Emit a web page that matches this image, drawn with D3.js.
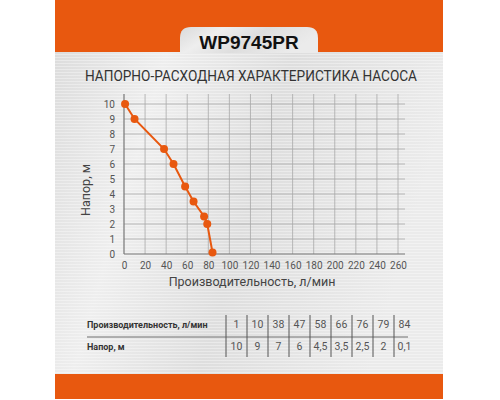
<!DOCTYPE html>
<html><head><meta charset="utf-8">
<script src="https://cdn.jsdelivr.net/npm/d3@7"></script>
<style>body{margin:0;background:#fff}svg{display:block}</style>
</head><body>
<svg id="c" width="500" height="400"></svg>
<script>
const flow = [1, 10, 38, 47, 58, 66, 76, 79, 84];
const head = [10, 9, 7, 6, 4.5, 3.5, 2.5, 2, 0.1];
const headLabels = ["10", "9", "7", "6", "4,5", "3,5", "2,5", "2", "0,1"];
const xTicks = d3.range(0, 261, 20);
const yTicks = d3.range(0, 11, 1);
const title = "WP9745PR";
const subtitle = "НАПОРНО-РАСХОДНАЯ ХАРАКТЕРИСТИКА НАСОСА";
const xTitle = "Производительность, л/мин";
const yTitle = "Напор, м";
const rowLabels = ["Производительность, л/мин", "Напор, м"];

const svg = d3.select("#c");
const orange = "#e8580f";
const font = "Roboto, 'Liberation Sans', sans-serif";

const defs = svg.append("defs");
const g = defs.append("linearGradient").attr("id","metal").attr("x1","0").attr("x2","1").attr("y1","0").attr("y2","0.3");
g.append("stop").attr("offset","0").attr("stop-color","#dadada");
g.append("stop").attr("offset","0.3").attr("stop-color","#eeeeee");
g.append("stop").attr("offset","0.6").attr("stop-color","#dedede");
g.append("stop").attr("offset","1").attr("stop-color","#ebebeb");
const pat = defs.append("pattern").attr("id","stripes").attr("width",400).attr("height",3).attr("patternUnits","userSpaceOnUse");
pat.append("rect").attr("width",400).attr("height",1).attr("fill","#ffffff").attr("opacity",0.35);

// panel
svg.append("rect").attr("x",55).attr("y",0).attr("width",388).attr("height",399).attr("fill","url(#metal)");
svg.append("rect").attr("x",55).attr("y",52).attr("width",388).attr("height",322).attr("fill","url(#stripes)");
svg.append("rect").attr("x",55).attr("y",0).attr("width",388).attr("height",52).attr("fill",orange);
svg.append("rect").attr("x",55).attr("y",374).attr("width",388).attr("height",25).attr("fill",orange);
// tab
svg.append("path").attr("d","M180,53 L180,38 Q180,27 191,27 L307,27 Q318,27 318,38 L318,53 Z").attr("fill","url(#metal)");
svg.append("text").attr("x",249).attr("y",49).attr("text-anchor","middle").attr("font-family","'Liberation Sans', Arial, sans-serif")
  .attr("font-weight","bold").attr("font-size",19).attr("fill","#111").text(title);
svg.append("text").attr("x",251).attr("y",81).attr("text-anchor","middle").attr("font-family",font)
  .attr("font-size",14).attr("fill","#333").attr("textLength",332).attr("lengthAdjust","spacingAndGlyphs").text(subtitle);

// scales
const x = d3.scaleLinear().domain([0,260]).range([124,398]);
const y = d3.scaleLinear().domain([0,10]).range([254,104]);

const grid = svg.append("g");
grid.selectAll(".v").data(xTicks.filter(d=>d>0)).join("line")
  .attr("x1",d=>x(d)).attr("x2",d=>x(d)).attr("y1",94).attr("y2",254)
  .attr("stroke","#a8a8a8").attr("stroke-width",0.8);
grid.selectAll(".h").data(yTicks.filter(d=>d>0)).join("line")
  .attr("x1",124).attr("x2",405).attr("y1",d=>y(d)).attr("y2",d=>y(d))
  .attr("stroke","#a8a8a8").attr("stroke-width",0.8);

const xAxis = svg.append("g").attr("transform","translate(0,254)")
  .call(d3.axisBottom(x).tickValues(xTicks).tickSize(0).tickPadding(8));
xAxis.select(".domain").remove();
svg.append("line").attr("x1",124).attr("x2",405).attr("y1",254).attr("y2",254).attr("stroke","#777").attr("stroke-width",1.2);
const yAxis = svg.append("g").attr("transform","translate(124,0)")
  .call(d3.axisLeft(y).tickValues(yTicks).tickSize(0).tickPadding(9));
yAxis.select(".domain").remove();
svg.append("line").attr("x1",124).attr("x2",124).attr("y1",94).attr("y2",254).attr("stroke","#777").attr("stroke-width",1.2);
svg.selectAll(".tick text").attr("font-family",font).attr("font-size",10).attr("fill","#555");

svg.append("text").attr("x",252).attr("y",286).attr("text-anchor","middle").attr("font-family",font)
  .attr("font-size",12.5).attr("fill","#444").text(xTitle);
svg.append("text").attr("transform","translate(90,190) rotate(-90)").attr("text-anchor","middle").attr("font-family",font)
  .attr("font-size",12.5).attr("fill","#444").text(yTitle);

const pts = flow.map((f,i)=>[f,head[i]]);
svg.append("path").datum(pts).attr("fill","none").attr("stroke",orange).attr("stroke-width",2)
  .attr("d",d3.line().x(d=>x(d[0])).y(d=>y(d[1])));
svg.selectAll(".pt").data(pts).join("circle").attr("cx",d=>x(d[0])).attr("cy",d=>y(d[1])).attr("r",4).attr("fill",orange);

// table
const colX = d3.scaleBand().domain(d3.range(flow.length)).range([226,415]);
const tbl = svg.append("g");
tbl.append("line").attr("x1",87).attr("x2",408).attr("y1",337).attr("y2",337).attr("stroke","#999").attr("stroke-width",1.5);
tbl.selectAll(".vs").data(d3.range(flow.length)).join("line")
  .attr("x1",d=>colX(d)).attr("x2",d=>colX(d)).attr("y1",315).attr("y2",357).attr("stroke","#555").attr("stroke-width",1);
tbl.selectAll(".rl").data(rowLabels).join("text").attr("x",87).attr("y",(d,i)=>i?350:328)
  .attr("font-family",font).attr("font-weight","bold").attr("font-size",9).attr("fill","#333").text(d=>d);
tbl.selectAll(".r1").data(flow).join("text").attr("x",(d,i)=>colX(i)+colX.bandwidth()/2).attr("y",328)
  .attr("text-anchor","middle").attr("font-family",font).attr("font-size",10.5).attr("fill","#555").text(d=>d);
tbl.selectAll(".r2").data(headLabels).join("text").attr("x",(d,i)=>colX(i)+colX.bandwidth()/2).attr("y",350)
  .attr("text-anchor","middle").attr("font-family",font).attr("font-size",10.5).attr("fill","#555").text(d=>d);
</script>
</body></html>
